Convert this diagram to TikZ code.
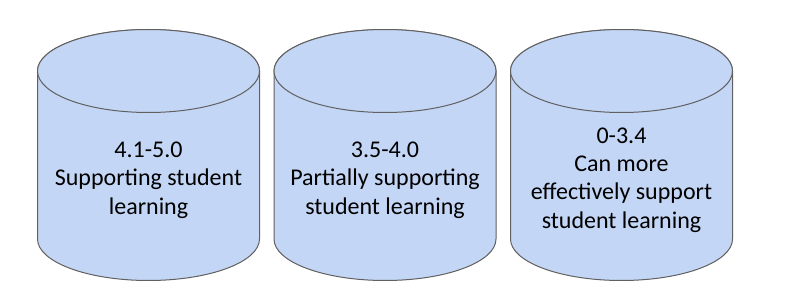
\documentclass[tikz,border=0pt]{standalone}
\usepackage{fontspec}
\setmainfont{Carlito}
\definecolor{tankblue}{RGB}{196,214,245}
\definecolor{tankline}{RGB}{96,96,96}

\begin{document}
\begin{tikzpicture}[x=1pt, y=-1pt,
  tank/.style={fill=tankblue, draw=tankline, line width=1pt},
  lbl/.style={align=center, text=black, font=\fontsize{24}{28.3}\selectfont}]
  \useasboundingbox (0,0) rectangle (790,302);
  % first tank
  \draw[tank] (37.5,71) -- (37.5,239) arc (180:360:111pt and 41.5pt)
       -- (259.5,71) arc (0:180:111pt and 41.5pt) -- cycle;
  \draw[tank] (148.5,71) ellipse [x radius=111pt, y radius=41.5pt];
  \node[lbl] (high) at (148.5,180) {4.1-5.0\\Supporting student\\learning};
  % second tank
  \draw[tank] (274,71) -- (274,239) arc (180:360:111pt and 41.5pt)
       -- (496,71) arc (0:180:111pt and 41.5pt) -- cycle;
  \draw[tank] (385,71) ellipse [x radius=111pt, y radius=41.5pt];
  \node[lbl] (mid) at (385,180) {3.5-4.0\\Partially supporting\\student learning};
  % third tank
  \draw[tank] (510.5,71) -- (510.5,239) arc (180:360:111pt and 41.5pt)
       -- (732.5,71) arc (0:180:111pt and 41.5pt) -- cycle;
  \draw[tank] (621.5,71) ellipse [x radius=111pt, y radius=41.5pt];
  \node[lbl] (low) at (621.5,180) {0-3.4\\Can more\\effectively support\\student learning};
\end{tikzpicture}
\end{document}
